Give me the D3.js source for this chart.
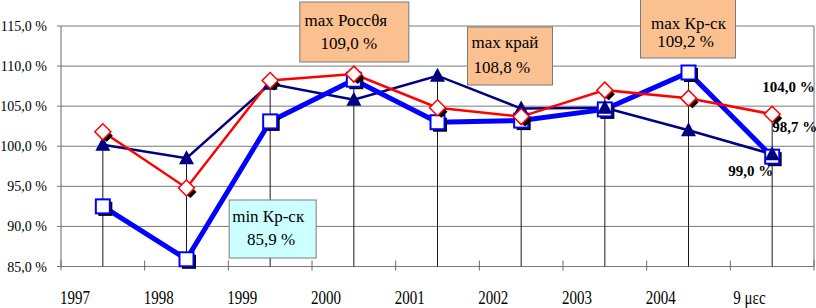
<!DOCTYPE html>
<html>
<head>
<meta charset="utf-8">
<script src="https://cdn.jsdelivr.net/npm/d3@7"></script>
<style>
  body { margin: 0; background: #fff; }
  svg text { font-family: "Liberation Serif", "Times New Roman", Times, "DejaVu Serif", serif; }
</style>
</head>
<body>
<div id="chart"></div>
<script>
// categories on x axis
const categories = ["1997", "1998", "1999", "2000", "2001", "2002", "2003", "2004", "9 μεc"];

// series values, %
const russia = [101.8, 94.8, 108.2, 109.0, 104.8, 103.7, 107.0, 106.0, 104.0];
const krai   = [100.2, 98.5, 107.8, 105.8, 108.8, 104.7, 104.8, 102.0, 99.0];
const krsk   = [92.5, 85.9, 103.1, 108.3, 103.0, 103.2, 104.6, 109.2, 98.7];

const yTicks = [85, 90, 95, 100, 105, 110, 115];

const width = 816, height = 308;
const margin = {top: 26, right: 2, bottom: 41.5, left: 61};

const svg = d3.select("#chart").append("svg")
    .attr("width", width)
    .attr("height", height)
    .attr("font-family", "'Liberation Serif', 'Times New Roman', Times, 'DejaVu Serif', serif");

const x = d3.scaleBand()
    .domain(categories)
    .range([margin.left, width - margin.right]);

const y = d3.scaleLinear()
    .domain([85, 115])
    .range([height - margin.bottom, margin.top]);

const fmt = v => v.toFixed(1).replace(".", ",") + " %";
const cx = c => x(c) + x.bandwidth() / 2;

// horizontal grid
svg.append("g")
  .selectAll("line")
  .data(yTicks)
  .join("line")
    .attr("x1", margin.left - 4)
    .attr("x2", width - margin.right)
    .attr("y1", d => y(d))
    .attr("y2", d => y(d))
    .attr("stroke", "#7a7a7a")
    .attr("stroke-width", 1);

// y labels
svg.append("g")
  .selectAll("text")
  .data(yTicks)
  .join("text")
    .attr("x", 47)
    .attr("y", d => y(d) + 5)
    .attr("text-anchor", "end")
    .attr("font-size", 14)
    .text(fmt);

// left axis and right border
svg.append("line")
    .attr("x1", margin.left).attr("x2", margin.left)
    .attr("y1", y(115)).attr("y2", y(85))
    .attr("stroke", "#6a6a6a");
svg.append("line")
    .attr("x1", width - margin.right).attr("x2", width - margin.right)
    .attr("y1", y(115)).attr("y2", y(85))
    .attr("stroke", "#6a6a6a");

// x ticks between categories
const tickX = categories.map(c => x(c)).concat([x.range()[1]]);
svg.append("g")
  .selectAll("line")
  .data(tickX)
  .join("line")
    .attr("x1", d => d).attr("x2", d => d)
    .attr("y1", y(85) - 6).attr("y2", y(85) + 4)
    .attr("stroke", "#6a6a6a");

// x labels
svg.append("g")
  .selectAll("text")
  .data(categories)
  .join("text")
    .attr("transform", (d, i) => `translate(${x(d) + (i === 8 ? 3 : -1)},304) scale(1,1.2)`)
    .attr("font-size", 15)
    .text(d => d);

// drop lines from highest point to axis
const maxes = categories.map((c, i) => Math.max(russia[i], krai[i], krsk[i]));
svg.append("g")
  .selectAll("line")
  .data(categories)
  .join("line")
    .attr("x1", cx).attr("x2", cx)
    .attr("y1", (d, i) => y(maxes[i]))
    .attr("y2", y(85))
    .attr("stroke", "#1a1a1a")
    .attr("stroke-width", 1);

const line = d3.line()
    .x((d, i) => cx(categories[i]))
    .y(d => y(d));

svg.append("path").datum(krai)
    .attr("d", line).attr("fill", "none")
    .attr("stroke", "#000080").attr("stroke-width", 2.5);
svg.append("path").datum(krsk)
    .attr("d", line).attr("fill", "none")
    .attr("stroke", "#0000ff").attr("stroke-width", 5);
svg.append("path").datum(russia)
    .attr("d", line).attr("fill", "none")
    .attr("stroke", "#ff0000").attr("stroke-width", 2.5);

// square markers (Кр-ск)
const sq = svg.append("g").selectAll("g").data(krsk).join("g")
    .attr("transform", (d, i) => `translate(${cx(categories[i])},${y(d)})`);
sq.append("rect")
    .attr("x", -4.5).attr("y", -4.5).attr("width", 14).attr("height", 14)
    .attr("fill", "#000");
sq.append("rect")
    .attr("x", -7).attr("y", -7).attr("width", 14).attr("height", 14)
    .attr("fill", "#fff").attr("stroke", "#0000ff").attr("stroke-width", 2);

// triangle markers (край)
svg.append("g").selectAll("path").data(krai).join("path")
    .attr("transform", (d, i) => `translate(${cx(categories[i])},${y(d)})`)
    .attr("d", "M0,-8L7.5,6L-7.5,6Z")
    .attr("fill", "#000080");

// diamond markers (Россия)
const dm = svg.append("g").selectAll("g").data(russia).join("g")
    .attr("transform", (d, i) => `translate(${cx(categories[i])},${y(d)})`);
dm.append("path")
    .attr("d", "M0,-6L8,2L2,8L-6,2Z")
    .attr("transform", "translate(2,2)")
    .attr("fill", "#000");
dm.append("path")
    .attr("d", "M0,-8L8,0L0,8L-8,0Z")
    .attr("fill", "#fff").attr("stroke", "#ff0000").attr("stroke-width", 1.5);

// annotation boxes
function box(x0, y0, w, h, fill, lines) {
  const g = svg.append("g");
  g.append("rect")
      .attr("x", x0).attr("y", y0).attr("width", w).attr("height", h)
      .attr("fill", fill).attr("stroke", "#7a7a7a").attr("stroke-width", 1);
  lines.forEach(l => {
    g.append("text")
        .attr("x", l.x).attr("y", l.y)
        .attr("text-anchor", l.anchor || "middle")
        .attr("font-size", 17)
        .text(l.t);
  });
}

const xRu = cx("2000"), xKr = cx("2001"), xKs = cx("2004"), xMin = cx("1999");
box(xRu - 54, 2, 109, 60, "#fac090", [
  {t: "max Россθя", x: xRu - 8, y: 26},
  {t: fmt(russia[3]), x: xRu - 5, y: 49}
]);
box(xKr + 30, 27, 85, 58, "#fac090", [
  {t: "max край", x: xKr + 34, y: 48, anchor: "start"},
  {t: fmt(krai[4]), x: xKr + 36, y: 73, anchor: "start"}
]);
box(xKs - 48, -1, 95, 59, "#fac090", [
  {t: "max Кр-ск", x: xKs, y: 29},
  {t: fmt(krsk[7]), x: xKs - 3, y: 47}
]);
box(xMin - 41, 200, 87, 58, "#ccffff", [
  {t: "min Кр-ск", x: xMin - 2, y: 222},
  {t: fmt(krsk[1]), x: xMin + 1, y: 245}
]);

// data labels for last category
const last = categories[8];
const dl = [
  {v: russia[8], dx: -10, dy: -22},
  {v: krsk[8], dx: 0, dy: -25},
  {v: krai[8], dx: -44, dy: 22}
];
svg.append("g").selectAll("text").data(dl).join("text")
    .attr("x", d => cx(last) + d.dx)
    .attr("y", d => y(d.v) + d.dy)
    .attr("font-size", 15)
    .attr("font-weight", "bold")
    .text(d => fmt(d.v));
</script>
</body>
</html>
